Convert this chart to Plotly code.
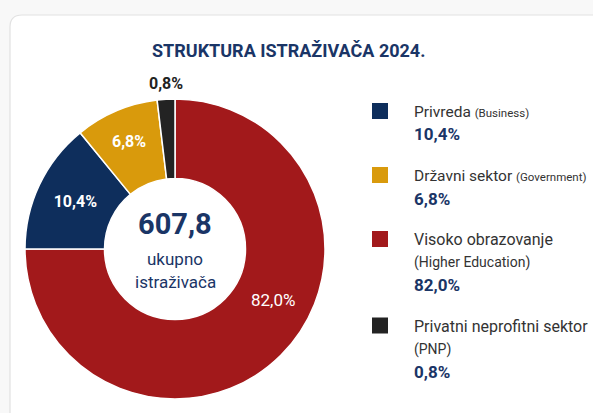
import plotly.graph_objects as go

# ---------------- data ----------------
title_text = "STRUKTURA ISTRAŽIVAČA 2024."
sectors = ["Visoko obrazovanje", "Privreda", "Državni sektor", "Privatni neprofitni sektor"]
# arc shares as drawn in the reference infographic (clockwise from 12 o'clock)
drawn_share = [75.0, 14.1, 9.0, 1.9]
# percentages printed on the chart
stated_pct = ["82,0%", "10,4%", "6,8%", "0,8%"]
slice_colors = ["#A2191B", "#0E2E5C", "#D99A0C", "#232323"]
total_value = "607,8"
total_lines = ["ukupno", "istraživača"]

# legend (order as in reference)
legend_order = [1, 2, 0, 3]
legend_main = {0: "Visoko obrazovanje", 1: "Privreda", 2: "Državni sektor", 3: "Privatni neprofitni sektor"}
legend_en = {0: "(Higher Education)", 1: "(Business)", 2: "(Government)", 3: "(PNP)"}
legend_en_newline = {0: True, 1: False, 2: False, 3: True}

# ---------------- layout helpers ----------------
W, H = 593, 413
def px(x):
    return x / W
def py(y):
    return 1 - y / H

NAVY = "#1A3566"
FONT = "Roboto"

# pie geometry (pixels)
cx, cy, R = 175, 249, 150

slice_text = []
positions = []
for i, t in enumerate(stated_pct):
    slice_text.append("<b>" + t + "</b>")
    positions.append("inside" if i in (1, 2) else "none")

fig = go.Figure()
fig.add_trace(go.Pie(
    labels=sectors,
    values=drawn_share,
    text=slice_text,
    textinfo="text",
    textposition=positions,
    insidetextorientation="horizontal",
    textfont=dict(color="white", size=16, family=FONT),
    marker=dict(colors=slice_colors, line=dict(color="white", width=1.5)),
    hole=0.47,
    sort=False,
    direction="clockwise",
    rotation=0,
    domain=dict(x=[px(cx - R), px(cx + R)], y=[py(cy + R), py(cy - R)]),
    showlegend=False,
    hoverinfo="label+text",
))

shapes = []
# card with rounded top-left corner
x0, y0, x1, y1, r = px(10), py(15), px(610), py(430), 12
shapes.append(dict(
    type="path", xref="paper", yref="paper",
    path=(f"M {x0},{y0 - r / H} Q {x0},{y0} {x0 + r / W},{y0} "
          f"L {x1},{y0} L {x1},{y1} L {x0},{y1} Z"),
    fillcolor="white", line=dict(color="#E2E2E2", width=1.2), layer="below",
))

annotations = []
annotations.append(dict(x=px(288), y=py(51), xref="paper", yref="paper", text="<b>" + title_text + "</b>",
                        showarrow=False, font=dict(family=FONT, size=18, color=NAVY),
                        xanchor="center", yanchor="middle"))
# center label
annotations.append(dict(x=px(cx), y=py(224), xref="paper", yref="paper", text="<b>" + total_value + "</b>",
                        showarrow=False, font=dict(family=FONT, size=29, color=NAVY),
                        xanchor="center", yanchor="middle"))
for k, line in enumerate(total_lines):
    annotations.append(dict(x=px(cx), y=py(259 + 23 * k), xref="paper", yref="paper", text=line,
                            showarrow=False, font=dict(family=FONT, size=17, color=NAVY),
                            xanchor="center", yanchor="middle"))
# large-slice label (placed where the reference shows it)
annotations.append(dict(x=px(273), y=py(300), xref="paper", yref="paper", text=stated_pct[0],
                        showarrow=False, font=dict(family=FONT, size=17, color="white"),
                        xanchor="center", yanchor="middle"))
# small slice label outside
annotations.append(dict(x=px(166), y=py(83), xref="paper", yref="paper", text="<b>" + stated_pct[3] + "</b>",
                        showarrow=False, font=dict(family=FONT, size=16, color="#222222"),
                        xanchor="center", yanchor="middle"))

# legend
sq = 16
sq_cx = 380
text_x = 412
line_h = 22.5
gap = 19
ytop = 103
for idx in legend_order:
    lines = []
    if legend_en_newline[idx]:
        lines.append((legend_main[idx], 16, "#333333"))
        lines.append((legend_en[idx], 14, "#333333"))
    else:
        lines.append((legend_main[idx] + ' <span style="font-size:11.5px">' + legend_en[idx] + "</span>", 15.5, "#333333"))
    lines.append(("<b>" + stated_pct[idx] + "</b>", 17, NAVY))
    shapes.append(dict(type="rect", xref="paper", yref="paper",
                       x0=px(sq_cx - sq / 2), x1=px(sq_cx + sq / 2),
                       y0=py(ytop + sq), y1=py(ytop),
                       fillcolor=slice_colors[idx], line=dict(width=0)))
    for k, (txt, size, col) in enumerate(lines):
        annotations.append(dict(x=px(text_x), y=py(ytop + 9 + line_h * k), xref="paper", yref="paper",
                                text=txt, showarrow=False, font=dict(family=FONT, size=size, color=col),
                                xanchor="left", yanchor="middle"))
    ytop += len(lines) * line_h + gap

fig.update_layout(
    width=W, height=H,
    margin=dict(l=0, r=0, t=0, b=0),
    paper_bgcolor="#F8F8F8",
    plot_bgcolor="#F8F8F8",
    shapes=shapes,
    annotations=annotations,
    font=dict(family=FONT),
)

fig.write_html("out.html", config={"displayModeBar": False},
               post_script="document.body.style.margin='0';document.body.style.overflow='hidden';")
